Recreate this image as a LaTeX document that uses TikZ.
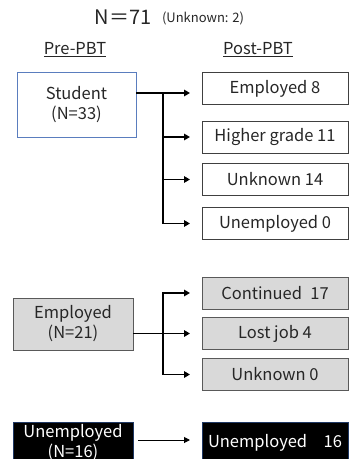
\documentclass[tikz,border=0pt]{standalone}
\usepackage{fontspec}
\setmainfont{Noto Sans CJK JP}
\usetikzlibrary{arrows.meta}
\definecolor{stuborder}{HTML}{5A7DBE}
\definecolor{boxborder}{HTML}{404040}
\definecolor{grayfill}{HTML}{D9D9D9}
\definecolor{grayborder}{HTML}{595959}
\definecolor{navyborder}{HTML}{1F3864}
\definecolor{txt}{HTML}{262626}
\begin{document}
\begin{tikzpicture}[x=1pt,y=-1pt,
  every node/.style={inner sep=0pt, outer sep=0pt},
  lbl/.style={font=\fontsize{16.5}{20}\selectfont, text=txt, align=center},
  prebox/.style={draw=stuborder, line width=0.8pt, lbl, minimum width=119pt, minimum height=65pt},
  postbox/.style={draw=boxborder, line width=0.8pt, lbl, minimum width=146pt, minimum height=32pt},
  graybox/.style={postbox, draw=grayborder, fill=grayfill},
  empbox/.style={draw=grayborder, fill=grayfill, line width=0.8pt, lbl, minimum width=120pt, minimum height=52pt},
  blackbox/.style={draw=navyborder, fill=black, line width=0.8pt, lbl, text=white},
  conn/.style={line width=1.7pt, black},
  arr/.style={conn, -{Triangle[length=6pt,width=6.5pt]}, shorten >=12pt},
  thinarr/.style={line width=1pt, black, -{Triangle[length=6pt,width=6pt]}, shorten >=12pt, shorten <=5pt}]
\useasboundingbox (0,0) rectangle (349,459);

% header
\node[font=\fontsize{20}{22}\selectfont, text=txt, anchor=west] (ntot) at (95,17) {N＝71};
\node[font=\fontsize{13}{15}\selectfont, text=txt, anchor=west] (nunk) at (162,18) {(Unknown: 2)};
\node[lbl] (pre) at (75,50) {\underline{Pre-PBT}};
\node[lbl] (post) at (258,50) {\underline{Post-PBT}};

% student block
\node[prebox] (student) at (76.5,104.5) {Student\\(N=33)};
\node[postbox] (e8) at (275,88.5) {Employed 8};
\node[postbox] (hg) at (275,137) {Higher grade 11};
\node[postbox] (u14) at (275,179.5) {Unknown 14};
\node[postbox] (un0) at (275,223.5) {Unemployed 0};
\coordinate (sb) at (163,93);
\draw[arr] (student.east |- sb) -- (e8.west |- sb);
\draw[arr] (sb) |- (un0.west);
\draw[arr] (sb |- hg) -- (hg.west);
\draw[arr] (sb |- u14) -- (u14.west);

% employed block
\node[empbox] (emp) at (73,324) {Employed\\(N=21)};
\node[graybox] (cont) at (275,293) {Continued\hspace{0.5em}17};
\node[graybox] (lost) at (275,333.5) {Lost job 4};
\node[graybox] (unk0) at (275,374.5) {Unknown 0};
\coordinate (eb) at (163,333.5);
\draw[arr] (emp.east |- lost) -- (lost.west);
\draw[arr] (eb) |- (cont.west);
\draw[arr] (eb) |- (unk0.west);

% unemployed block
\node[blackbox, minimum width=120pt, minimum height=42pt] (unemp) at (73,443) {Unemployed\\(N=16)};
\node[blackbox, minimum width=146pt, minimum height=42pt] (u16) at (275,443) {Unemployed\hspace{1em}16};
\draw[thinarr] (unemp.east |- 0,440) -- (u16.west |- 0,440);
\end{tikzpicture}
\end{document}
